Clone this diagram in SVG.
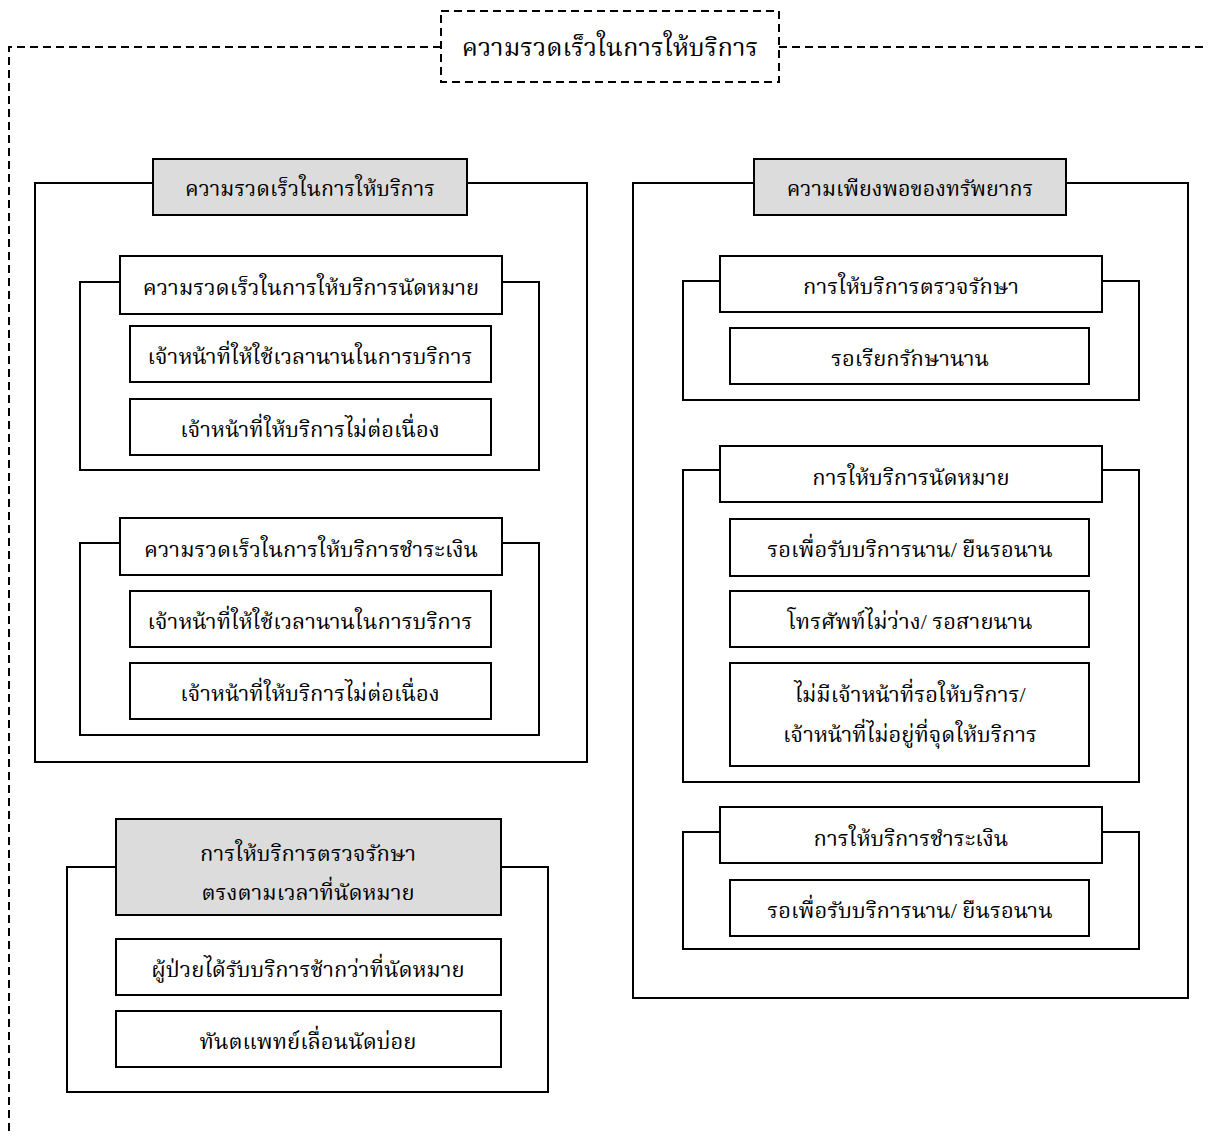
<svg xmlns="http://www.w3.org/2000/svg" width="1208" height="1136" viewBox="0 0 1208 1136">
  <style>
    .frame { fill: none; stroke: #000; stroke-width: 2; }
    .tab { fill: #fff; stroke: #000; stroke-width: 2; }
    .tab.head { fill: #dcdcdc; }
    .item { fill: #fff; stroke: #000; stroke-width: 2; }
    .dash { fill: none; stroke: #000; stroke-width: 2; stroke-dasharray: 8 5; }
    text { font-family: "Liberation Serif", "Noto Serif Thai", "Noto Sans Thai", serif; font-size: 22px; fill: #000; text-anchor: middle; dominant-baseline: central; }
    .big { font-size: 25.5px; }
    .sub { font-size: 21.5px; }
  </style>
  <rect width="1208" height="1136" fill="#fff"/>

  <!-- dashed bracket from the title box -->
  <g id="connectors">
    <path class="dash" d="M441 47 H9 V1136"/>
    <path class="dash" d="M779 47 H1208"/>
  </g>

  <g id="title">
    <rect class="dash" x="441" y="11" width="338" height="71"/>
    <text class="big" x="610" y="47">ความรวดเร็วในการให้บริการ</text>
  </g>

  <!-- left group: speed of service -->
  <g id="speed">
    <rect class="frame" x="35" y="183" width="552" height="579"/>
    <rect class="tab head" x="153" y="159" width="314" height="56"/>
    <text class="sub" x="310" y="189">ความรวดเร็วในการให้บริการ</text>
  </g>

  <g id="speed-appointment">
    <rect class="frame" x="80" y="282" width="459" height="188"/>
    <rect class="tab" x="120" y="256" width="382" height="58"/>
    <text x="311" y="287">ความรวดเร็วในการให้บริการนัดหมาย</text>
    <g id="speed-appointment-1">
      <rect class="item" x="130" y="326" width="361" height="56"/>
      <text x="310" y="356">เจ้าหน้าที่ให้ใช้เวลานานในการบริการ</text>
    </g>
    <g id="speed-appointment-2">
      <rect class="item" x="130" y="399" width="361" height="56"/>
      <text x="310" y="429">เจ้าหน้าที่ให้บริการไม่ต่อเนื่อง</text>
    </g>
  </g>

  <g id="speed-payment">
    <rect class="frame" x="80" y="543" width="459" height="192"/>
    <rect class="tab" x="120" y="518" width="382" height="57"/>
    <text x="311" y="549">ความรวดเร็วในการให้บริการชำระเงิน</text>
    <g id="speed-payment-1">
      <rect class="item" x="130" y="591" width="361" height="56"/>
      <text x="310" y="621">เจ้าหน้าที่ให้ใช้เวลานานในการบริการ</text>
    </g>
    <g id="speed-payment-2">
      <rect class="item" x="130" y="663" width="361" height="56"/>
      <text x="310" y="693">เจ้าหน้าที่ให้บริการไม่ต่อเนื่อง</text>
    </g>
  </g>

  <!-- left bottom group: on-time treatment -->
  <g id="on-time">
    <rect class="frame" x="67" y="867" width="481" height="225"/>
    <rect class="tab head" x="116" y="819" width="385" height="96"/>
    <text x="308" y="853">การให้บริการตรวจรักษา</text>
    <text x="308" y="892">ตรงตามเวลาที่นัดหมาย</text>
    <g id="on-time-1">
      <rect class="item" x="116" y="939" width="385" height="56"/>
      <text x="308" y="969">ผู้ป่วยได้รับบริการช้ากว่าที่นัดหมาย</text>
    </g>
    <g id="on-time-2">
      <rect class="item" x="116" y="1011" width="385" height="56"/>
      <text x="308" y="1041">ทันตแพทย์เลื่อนนัดบ่อย</text>
    </g>
  </g>

  <!-- right group: resource sufficiency -->
  <g id="resources">
    <rect class="frame" x="633" y="183" width="555" height="815"/>
    <rect class="tab head" x="754" y="159" width="312" height="56"/>
    <text class="sub" x="910" y="189">ความเพียงพอของทรัพยากร</text>
  </g>

  <g id="res-treatment">
    <rect class="frame" x="683" y="281" width="456" height="119"/>
    <rect class="tab" x="720" y="256" width="382" height="56"/>
    <text x="911" y="286">การให้บริการตรวจรักษา</text>
    <g id="res-treatment-1">
      <rect class="item" x="730" y="328" width="359" height="56"/>
      <text x="910" y="358">รอเรียกรักษานาน</text>
    </g>
  </g>

  <g id="res-appointment">
    <rect class="frame" x="683" y="470" width="456" height="312"/>
    <rect class="tab" x="720" y="446" width="382" height="56"/>
    <text x="911" y="477">การให้บริการนัดหมาย</text>
    <g id="res-appointment-1">
      <rect class="item" x="730" y="519" width="359" height="57"/>
      <text x="910" y="549">รอเพื่อรับบริการนาน/ ยืนรอนาน</text>
    </g>
    <g id="res-appointment-2">
      <rect class="item" x="730" y="591" width="359" height="56"/>
      <text x="910" y="621">โทรศัพท์ไม่ว่าง/ รอสายนาน</text>
    </g>
    <g id="res-appointment-3">
      <rect class="item" x="730" y="663" width="359" height="103"/>
      <text x="910" y="694">ไม่มีเจ้าหน้าที่รอให้บริการ/</text>
      <text x="910" y="734">เจ้าหน้าที่ไม่อยู่ที่จุดให้บริการ</text>
    </g>
  </g>

  <g id="res-payment">
    <rect class="frame" x="683" y="832" width="456" height="117"/>
    <rect class="tab" x="720" y="807" width="382" height="56"/>
    <text x="911" y="838">การให้บริการชำระเงิน</text>
    <g id="res-payment-1">
      <rect class="item" x="730" y="880" width="359" height="56"/>
      <text x="910" y="910">รอเพื่อรับบริการนาน/ ยืนรอนาน</text>
    </g>
  </g>
</svg>
